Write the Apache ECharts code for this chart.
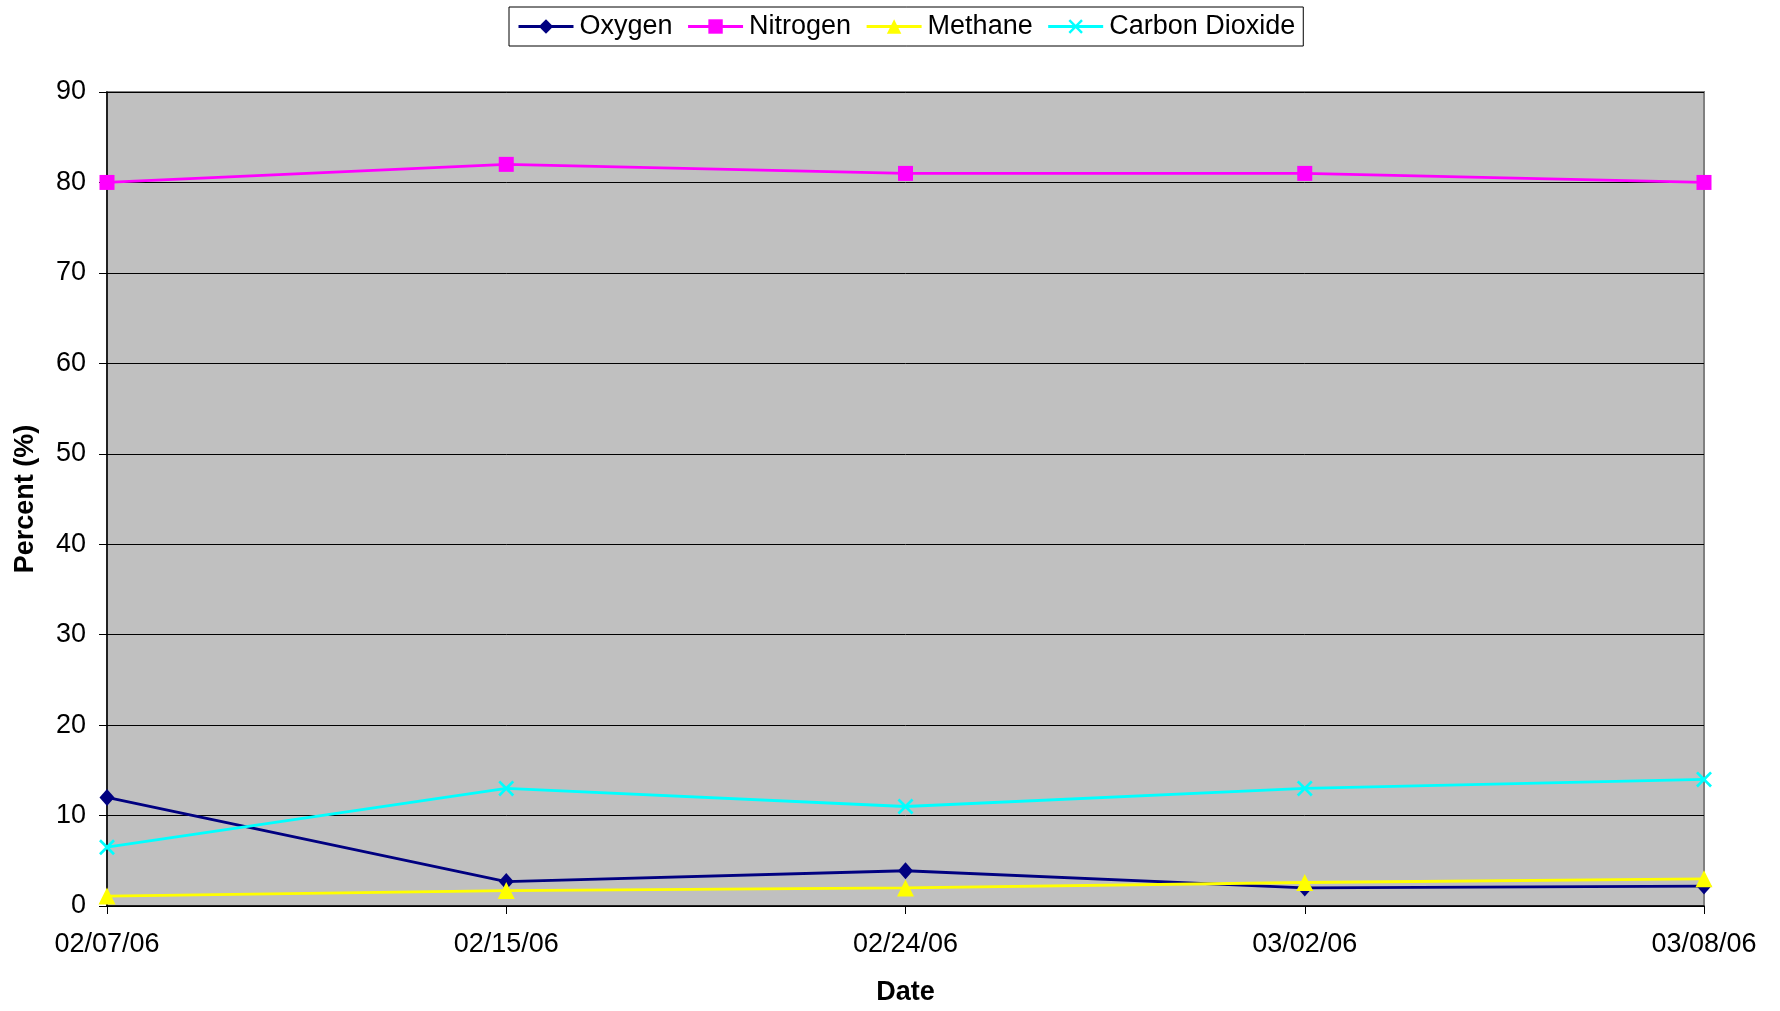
<!DOCTYPE html>
<html><head><meta charset="utf-8">
<script src="https://cdn.jsdelivr.net/npm/echarts@6/dist/echarts.min.js"></script>
<style>html,body{margin:0;padding:0;background:#fff}#c{width:1780px;height:1011px}</style>
</head><body><div id="c"></div>
<script>
var dates = ['02/07/06','02/15/06','02/24/06','03/02/06','03/08/06'];
var oxygen = [12, 2.7, 3.9, 2.0, 2.2];
var nitrogen = [80, 82, 81, 81, 80];
var methane = [1.1, 1.7, 2.0, 2.6, 3.0];
var carbonDioxide = [6.5, 13, 11, 13, 14];
var yTicks = {min: 0, max: 90, interval: 10};

var FONT = 'Liberation Sans, Arial, sans-serif';
var xSym = 'path://M0,1.2L1.2,0L5,3.8L8.8,0L10,1.2L6.2,5L10,8.8L8.8,10L5,6.2L1.2,10L0,8.8L3.8,5Z';

function mk(name, data, color, symbol, size) {
  return {
    name: name, type: 'line', data: data, symbol: symbol, symbolSize: size,
    showSymbol: true, animation: false,
    lineStyle: {color: color, width: 2.8},
    itemStyle: {color: color, borderWidth: 0}
  };
}

var chart = echarts.init(document.getElementById('c'));
chart.setOption({
  backgroundColor: '#fff',
  animation: false,
  textStyle: {fontFamily: FONT},
  legend: {
    left: 509, top: 7,
    padding: [6, 8, 6, 8],
    backgroundColor: '#fff', borderColor: '#000', borderWidth: 1,
    itemWidth: 55, itemHeight: 18, itemGap: 14,
    lineStyle: {width: 3},
    textStyle: {fontSize: 27, color: '#000', fontFamily: FONT, padding: [0,0,0,1]},
    data: ['Oxygen','Nitrogen','Methane','Carbon Dioxide']
  },
  grid: {
    left: 107, right: 76, top: 92, bottom: 102,
    show: true, backgroundColor: '#c0c0c0', borderColor: '#808080', borderWidth: 2
  },
  xAxis: {
    type: 'category', data: dates, boundaryGap: false,
    name: 'Date', nameLocation: 'middle', nameGap: 73,
    nameTextStyle: {fontSize: 27, fontWeight: 'bold', color: '#000', fontFamily: FONT},
    axisLine: {lineStyle: {color: '#000', width: 1.5}},
    axisTick: {show: true, length: 8, lineStyle: {color: '#000'}},
    axisLabel: {fontSize: 27, color: '#000', margin: 25, fontFamily: FONT, showMinLabel: true, showMaxLabel: true},
    splitLine: {show: false}
  },
  yAxis: {
    type: 'value', min: yTicks.min, max: yTicks.max, interval: yTicks.interval,
    name: 'Percent (%)', nameLocation: 'middle', nameGap: 68, nameRotate: 90,
    nameTextStyle: {fontSize: 27, fontWeight: 'bold', color: '#000', fontFamily: FONT},
    axisLine: {show: true, lineStyle: {color: '#000', width: 1.5}},
    axisTick: {show: true, length: 8, lineStyle: {color: '#000'}},
    axisLabel: {fontSize: 27, color: '#000', margin: 21, fontFamily: FONT},
    splitLine: {show: true, lineStyle: {color: '#000', width: 1}}
  },
  series: [
    mk('Oxygen', oxygen, '#000080', 'diamond', [15, 17]),
    mk('Nitrogen', nitrogen, '#ff00ff', 'rect', 15),
    mk('Methane', methane, '#ffff00', 'triangle', [17, 17]),
    mk('Carbon Dioxide', carbonDioxide, '#00ffff', xSym, 16)
  ]
});
</script></body></html>
